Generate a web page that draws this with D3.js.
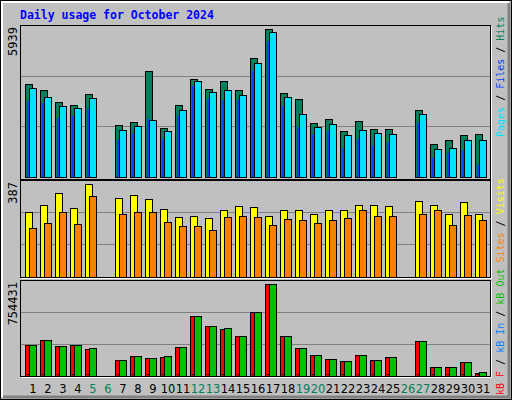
<!DOCTYPE html>
<html><head><meta charset="utf-8">
<script src="https://cdn.jsdelivr.net/npm/d3@7"></script>
<style>body{margin:0;background:#fff}svg{display:block}</style>
</head><body>
<svg id="chart" width="512" height="400"></svg>
<script>
const days = d3.range(1, 32);
const weekend = [5, 6, 12, 13, 19, 20, 26, 27];
// null = no data drawn
const hits  = [3732,3491,3010,2889,3331,0,2087,2207,4254,1966,2889,3933,3531,3852,3491,4776,5939,3371,3130,2167,2328,1846,2247,1926,1926,null,2689,1324,1485,1685,1726];
const pages = [3572,3210,2849,2769,3170,0,1886,2047,2287,1846,2689,3852,3411,3491,3290,4575,5819,3210,2528,2007,2127,1685,1886,1766,1726,null,2528,1124,1164,1485,1485];
const files = [3050,2969,2368,2448,2729,0,1485,1726,2328,1525,2448,3652,3130,3090,3090,4254,5458,2849,2007,1685,1846,1164,1525,1244,1404,null,2167,762,963,1084,482];
const visits = [270,299,353,286,387,0,328,341,324,282,249,253,245,278,295,291,253,278,278,261,278,278,299,299,295,null,316,299,261,312,261];
const sites  = [203,224,270,219,337,0,261,270,270,228,211,211,194,249,253,249,215,240,236,224,236,245,278,253,253,null,261,278,215,257,236];
const kbOut = [250520,291810,242260,250520,225740,0,126510,159560,143040,159560,234000,490330,407630,391100,324940,523380,754431,324940,225740,167820,134770,118240,167820,126510,151300,null,283600,68630,68630,110000,27300];
const kbF   = [250520,291810,242260,250520,217480,0,126510,159560,143040,151300,234000,490330,407630,382830,324940,523380,754431,324940,225740,167820,134770,118240,167820,126510,151300,null,283600,68630,68630,110000,19000];
const kbIn  = [8000,8000,8000,8000,8000,0,8000,8000,8000,8000,8000,8000,8000,8000,8000,8000,8000,8000,8000,8000,8000,8000,8000,8000,8000,null,8000,8000,8000,8000,8000];

const svg = d3.select('#chart');
const mono = 'DejaVu Sans Mono, monospace';

// frame
svg.append('rect').attr('x', 0).attr('y', 0).attr('width', 512).attr('height', 400).attr('fill', '#c0c0c0');
svg.append('rect').attr('x', 0.5).attr('y', 0.5).attr('width', 511).attr('height', 399).attr('fill', 'none').attr('stroke', '#000');
svg.append('path').attr('d', 'M2,397V2H509').attr('fill', 'none').attr('stroke', '#fff').attr('stroke-width', 2);
svg.append('path').attr('d', 'M3,397H509V3').attr('fill', 'none').attr('stroke', '#808080').attr('stroke-width', 3);

svg.append('text').attr('x', 20).attr('y', 19).attr('fill', '#0000ff')
  .style('font', `bold 11.5px ${mono}`).text('Daily usage for October 2024');

const x = d3.scaleLinear().domain([1, 31]).range([25, 475]);

function panel(top, bottom, base, maxPx, max, label, labelY) {
  svg.append('rect').attr('x', 20.5).attr('y', top + 0.5).attr('width', 470).attr('height', bottom - top)
    .attr('fill', '#c0c0c0').attr('stroke', '#000');
  svg.append('path').attr('d', `M21.5,${bottom + 1.5}H491.5V${top + 1.5}`).attr('fill', 'none').attr('stroke', '#fff');
  const y = d3.scaleLinear().domain([0, max]).range([base, base - maxPx]);
  const step = (base - top) / 3;
  [1, 2].forEach(k => svg.append('line').attr('x1', 21).attr('x2', 490)
    .attr('y1', Math.round(base - step * k) + 0.5).attr('y2', Math.round(base - step * k) + 0.5)
    .attr('stroke', '#808080'));
  svg.append('text').attr('transform', `translate(17,${labelY}) rotate(-90)`).attr('text-anchor', 'end')
    .attr('fill', '#000').style('font', `12px ${mono}`).text(label);
  return y;
}

function bars(vals, y, dx, w, color) {
  svg.append('g').selectAll('rect').data(days.filter(d => vals[d - 1] !== null)).join('rect')
    .attr('x', d => Math.round(x(d)) + dx + 0.5)
    .attr('y', d => Math.round(y(vals[d - 1])) + 0.5)
    .attr('width', w)
    .attr('height', d => Math.max(0, Math.round(y(0)) - Math.round(y(vals[d - 1]))))
    .attr('fill', color).attr('stroke', '#000');
}

const y1 = panel(25, 179, 177, 148, 5939, '5939', 27);
bars(hits, y1, 0, 7, '#00805c');
svg.append('g').selectAll('rect').data(days.filter(d => files[d - 1] !== null)).join('rect')
  .attr('x', d => Math.round(x(d)) + 2)
  .attr('y', d => Math.round(y1(files[d - 1])))
  .attr('width', 2)
  .attr('height', d => Math.round(y1(0)) - Math.round(y1(files[d - 1])))
  .attr('fill', '#0040ff');
bars(pages, y1, 4, 7, '#00e0ff');

const y2 = panel(180, 277, 276.7, 92.3, 387, '387', 182);
bars(visits, y2, 0, 7, '#ffff00');
bars(sites, y2, 4, 7, '#ff8000');

const y3 = panel(280, 376, 375.7, 91.3, 754431, '754431', 282);
bars(kbF, y3, 0, 7, '#ff0000');
bars(kbOut, y3, 4, 7, '#00c000');
svg.append('g').selectAll('rect').data(days.filter(d => kbIn[d - 1])).join('rect')
  .attr('x', d => Math.round(x(d)) + 2).attr('y', d => Math.round(y3(0)) - 2)
  .attr('width', 2).attr('height', 1).attr('fill', '#000');

svg.append('g').selectAll('text').data(days).join('text')
  .attr('x', d => x(d) + 8).attr('y', 393).attr('text-anchor', 'middle')
  .attr('fill', d => weekend.includes(d) ? '#00805c' : '#000')
  .style('font', '11.5px DejaVu Sans, sans-serif').text(d => d);

function legend(y0, parts) {
  const t = svg.append('text').attr('transform', `translate(504,${y0}) rotate(-90)`).style('font', `10px ${mono}`);
  parts.forEach(([s, c]) => t.append('tspan').attr('fill', c).text(s));
}
legend(137, [['Pages', '#00e0ff'], [' / ', '#000'], ['Files', '#0040ff'], [' / ', '#000'], ['Hits', '#00805c']]);
legend(395, [['kB F', '#ff0000'], [' / ', '#000'], ['kB In', '#0080ff'], [' / ', '#000'], ['kB Out', '#00c000'], [' ', '#000'],
  ['Sites', '#ff8000'], [' / ', '#000'], ['Visits', '#ffff00']]);
</script>
</body></html>
